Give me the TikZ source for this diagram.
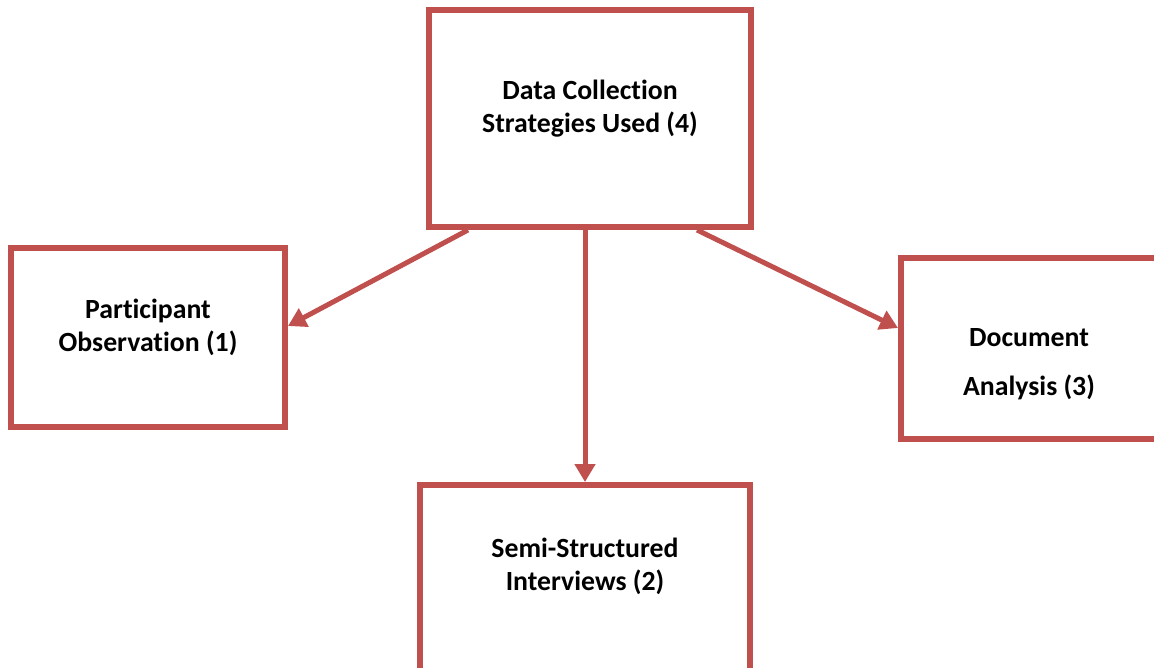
\documentclass[tikz,border=0pt]{standalone}
\usepackage{fontspec}
\setmainfont{Carlito}[Ligatures=NoCommon]
\usetikzlibrary{arrows.meta,calc}
\definecolor{boxred}{HTML}{C0504D}

\begin{document}
\begin{tikzpicture}[x=0.02cm,y=-0.02cm,
    box/.style={draw=boxred,line width=0.12cm,fill=white},
    txt/.style={align=center,font=\fontsize{15.8}{18.8}\selectfont\bfseries},
    link/.style={draw=boxred,line width=0.1cm,-{Triangle[length=0.36cm,width=0.4cm]}}]
    \useasboundingbox (0,0) rectangle (1154,667);

    \node[box,minimum width=6.44cm,minimum height=4.34cm] (strat) at (590,118.5) {};
    \node[box,minimum width=5.48cm,minimum height=3.58cm] (obs) at (148,337.5) {};
    \node[box,minimum width=5.12cm,minimum height=3.62cm] (doc) at (1029,348.5) {};
    \node[box,minimum width=6.6cm,minimum height=3.74cm] (semi) at (585,578.5) {};

    \node[txt] (stratText) at (590,109) {Data Collection\\Strategies Used (4)};
    \node[txt] (obsText) at (148,327) {Participant\\Observation (1)};
    \node[txt,font=\fontsize{15.8}{27.9}\selectfont\bfseries] (docText) at (1029,364.5) {Document\\Analysis (3)};
    \node[txt] (semiText) at (585,566) {Semi-Structured\\Interviews (2)};

    \draw[link] ($(strat.south)+(-122,0)$) -- ($(obs.east)+(0,-11.5)$);
    \draw[link] (strat.south -| semi.north) -- (semi.north);
    \draw[link] ($(strat.south)+(107,0)$) -- ($(doc.west)+(0,-20.5)$);
\end{tikzpicture}
\end{document}
